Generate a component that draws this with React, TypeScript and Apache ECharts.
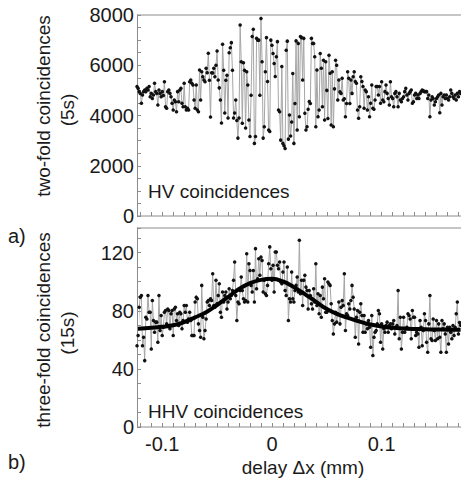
import React, { useEffect, useRef } from "react";
import * as echarts from "echarts";

// delay positions: first sample and step (mm)
const xStart = -0.123;
const xStep = 0.001;

// two-fold (HV) coincidences per 5 s
const twoFold = [
  5150, 5080, 4950, 4880, 4485, 4815, 4950, 5015, 4950, 5080,
  5015, 5150, 4750, 4880, 4680, 4815, 5280, 4950, 4880, 4420,
  5015, 4880, 4750, 4950, 4800, 5345, 4350, 4285, 4950, 5015,
  4880, 4750, 4485, 4220, 4620, 4550, 4150, 4950, 4550, 5015,
  5080, 4485, 4350, 5280, 4350, 4220, 4285, 4220, 5345, 5410,
  5280, 5215, 4620, 4285, 5215, 4220, 4150, 5810, 4620, 5740,
  5545, 5410, 5345, 5880, 5700, 6475, 5400, 3940, 5700, 5690,
  5880, 5540, 6000, 6570, 5410, 5100, 4620, 3700, 6840, 5800,
  4100, 5400, 5600, 3900, 6500, 6700, 6900, 5800, 3900, 4100,
  4620, 3800, 3100, 3900, 7600, 6140, 3690, 6100, 5800, 3500,
  5740, 5210, 3820, 3160, 4810, 7140, 7430, 2890, 3160, 7070,
  7000, 7000, 4810, 7865, 6140, 3100, 3550, 5740, 7100, 5350,
  3420, 3360, 7000, 6800, 6470, 6070, 5550, 6340, 6940, 4220,
  4150, 3020, 5950, 2890, 2800, 2690, 6600, 6960, 3060, 4020,
  3180, 3740, 5670, 2890, 4480, 6970, 3420, 6870, 3950, 7140,
  7100, 5410, 7070, 4090, 3420, 3550, 4250, 4560, 4480, 7070,
  6870, 6870, 6340, 3550, 5810, 3950, 4220, 6470, 5880, 4350,
  6200, 3820, 6140, 5000, 3880, 6400, 5680, 3620, 5740, 3550,
  5060, 6200, 6000, 4620, 5410, 4940, 4880, 5480, 4620, 4670,
  3950, 4480, 5740, 5480, 4480, 5410, 4880, 5540, 5740, 5350,
  5280, 4220, 3890, 4350, 5540, 5350, 5150, 4285, 5015, 4950,
  4220, 4750, 3950, 4485, 5215, 4285, 4250, 4620, 5150, 5150,
  4815, 5150, 4485, 5345, 4620, 4550, 4950, 5215, 4880, 4680,
  4420, 5345, 4750, 4680, 4350, 4880, 4950, 4750, 4350, 4880,
  4620, 4550, 4680, 4750, 4950, 5080, 4815, 4620, 4880, 4950,
  5015, 4485, 4550, 4815, 4880, 4680, 4815, 4680, 4880, 4950,
  5015, 4980, 4950, 4950, 4950, 4680, 4815, 3950, 4620, 4750,
  4680, 4420, 4550, 4680, 4750, 4815, 4110, 4880, 4420, 4750,
  4815, 4680, 4815, 4680, 4620, 4750, 5015, 4880, 4750, 4680,
  4815, 4620, 4880, 4750, 4950, 4880,
];

// three-fold (HHV) coincidences per 15 s
const threeFold = [
  56, 63, 82.5, 89.4, 90.6, 56, 61.8, 45.7, 75.6, 74.4,
  90.6, 79, 79, 53.7, 87.1, 73.3, 65.2, 72.2, 72.2, 58.4,
  90.6, 66.4, 76.7, 63, 68.7, 79, 80.2, 71, 81.3, 80.2,
  67.6, 77.9, 80.2, 63, 81.3, 82.5, 73.3, 77.9, 69.9, 79,
  77.9, 67.6, 73.3, 83.7, 79, 83.7, 72.2, 74.4, 79, 73.3,
  63, 63, 63, 86, 89.4, 88.3, 71, 66.4, 61.8, 97.5,
  75.6, 60.7, 66.4, 74.4, 86, 87.1, 83.7, 88.3, 87.1, 105.5,
  83.7, 82.5, 101, 84.8, 90.6, 98.6, 79, 75.6, 93, 86,
  90.6, 93, 81.3, 86, 95.2, 88.3, 90.6, 94, 101, 113.6,
  90.6, 73.3, 86, 84.8, 94, 103.2, 94, 88.3, 86, 87.1,
  119.3, 86, 112.4, 107.8, 97.5, 92.9, 107.8, 86, 122.8, 95.2,
  102.1, 115.9, 104.4, 117, 114.7, 92.9, 101, 91.7, 90.6, 97.5,
  112.4, 124, 108.9, 101, 111.3, 92.9, 120.5, 120.5, 111.3, 108.9,
  113.6, 99.8, 98.6, 106.7, 113.6, 94, 90.6, 110.1, 73.3, 88.3,
  86, 106.7, 88.3, 86, 94, 97.5, 103.2, 92.9, 128.5, 91.7,
  101, 83.7, 101, 104.4, 96.3, 94, 81.3, 94, 90.6, 84.8,
  81.3, 95.2, 86, 112.4, 83.7, 91.7, 77.9, 90.6, 75.6, 96.3,
  88.3, 102.1, 79, 79, 99.8, 98.6, 97.5, 84.8, 73.3, 64.1,
  71, 79, 72.2, 77.9, 86, 71, 82.5, 87.1, 83.7, 105.5,
  66.4, 77.9, 76.7, 84.8, 81.3, 87.1, 97.5, 89.4, 81.3, 61.8,
  75.6, 80.2, 57.2, 79, 84.8, 76.7, 65.2, 76.7, 65.2, 71,
  67.6, 73.3, 68.7, 54.9, 76.7, 49.2, 61.8, 65.2, 66.4, 71,
  80.2, 77.9, 58.4, 71, 53.7, 67.6, 65.2, 69.9, 72.2, 65.2,
  69.9, 71, 67.6, 71, 73.3, 64.1, 68.7, 69.9, 94, 60.7,
  75.6, 53.7, 65.2, 75.6, 65.2, 67.6, 68.7, 77.9, 76.7, 74.4,
  60.7, 80.2, 75.6, 75.6, 63, 65.2, 64.1, 54.9, 73.3, 68.7,
  56, 66.4, 77.9, 73.3, 58.4, 51.4, 71, 90.6, 60.7, 59.5,
  74.4, 66.4, 59.5, 73.3, 60.7, 71, 61.8, 51.4, 73.3, 67.6,
  71, 64.1, 51.4, 68.7, 57.2, 68.7, 65.2, 60.7, 69.9, 63,
  68.7, 77.9, 86, 64.1, 72, 70,
];

// fitted curve
const fitX = [-0.123, -0.11, -0.1, -0.09, -0.08, -0.07, -0.06, -0.05, -0.04, -0.03, -0.02, -0.01, 0, 0.01, 0.02, 0.03, 0.04, 0.05, 0.06, 0.07, 0.08, 0.09, 0.1, 0.11, 0.12, 0.13, 0.14, 0.15, 0.16, 0.172];
const fitY = [67.6, 68.3, 69, 70, 72.2, 75.5, 79, 84, 89.5, 95, 99, 101.3, 102, 100.2, 96.3, 91.5, 86.3, 81.2, 77.6, 75, 72.6, 70.6, 69.2, 68.3, 67.8, 67.5, 67.3, 67.1, 67, 66.9];

const topLabelValues = [0, 2000, 4000, 6000, 8000];
const bottomLabelValues = [0, 40, 80, 120];
const xLabelValues = [-0.1, 0, 0.1];

const FONT = '"Liberation Sans", Arial, Helvetica, sans-serif';
const TXT = "#1a1a1a";
const AX = "#8c8c8c";

const near = (v: number, list: number[], tol: number) => list.some((t) => Math.abs(t - v) < tol);

export default function App() {
  const ref = useRef<HTMLDivElement>(null);
  useEffect(() => {
    if (!ref.current) return;
    const chart = echarts.init(ref.current, null, { renderer: "svg" });
    const topData = twoFold.map((v, i) => [xStart + i * xStep, v]);
    const botData = threeFold.map((v, i) => [xStart + i * xStep, v]);
    const fitData = fitX.map((x, i) => [x, fitY[i]]);

    const tick = { show: true, inside: true, length: 4, lineStyle: { color: AX, width: 1 } };
    const xBase = {
      type: "value",
      min: -0.12,
      max: 0.18,
      interval: 0.01,
      axisLine: { show: false, onZero: false },
      axisTick: tick,
      splitLine: { show: false },
    };
    const label = { fontSize: 20, color: TXT, fontFamily: FONT };

    const option: any = {
      animation: false,
      backgroundColor: "#ffffff",
      grid: [
        { left: 140.3, top: 15, right: -8.4, height: 201, outerBoundsMode: "none", containLabel: false },
        { left: 140.3, top: 228, right: -8.4, height: 199, outerBoundsMode: "none", containLabel: false },
      ],
      xAxis: [
        { ...xBase, gridIndex: 0, axisLabel: { show: false } },
        {
          ...xBase,
          gridIndex: 1,
          axisLabel: {
            ...label,
            margin: 7,
            formatter: (v: number) => (near(v, xLabelValues, 1e-6) ? (Math.abs(v) < 1e-9 ? "0" : v.toFixed(1)) : ""),
          },
        },
      ],
      yAxis: [
        {
          type: "value",
          gridIndex: 0,
          min: 0,
          max: 8000,
          interval: 500,
          offset: 3.3,
          axisLine: { show: true, onZero: false, lineStyle: { color: AX, width: 1 } },
          axisTick: tick,
          splitLine: { show: false },
          axisLabel: { ...label, margin: 3, formatter: (v: number) => (near(v, topLabelValues, 1e-6) ? String(v) : "") },
        },
        {
          type: "value",
          gridIndex: 1,
          min: 0,
          max: 137,
          interval: 10,
          offset: 3.3,
          axisLine: { show: true, onZero: false, lineStyle: { color: AX, width: 1 } },
          axisTick: tick,
          splitLine: { show: false },
          axisLabel: { ...label, margin: 3, formatter: (v: number) => (near(v, bottomLabelValues, 1e-6) ? String(v) : "") },
        },
      ],
      series: [
        {
          type: "line",
          xAxisIndex: 0,
          yAxisIndex: 0,
          data: topData,
          clip: false,
          symbol: "circle",
          symbolSize: 3.5,
          itemStyle: { color: "#111" },
          lineStyle: { color: "#a6a6a6", width: 1 },
        },
        {
          type: "line",
          xAxisIndex: 1,
          yAxisIndex: 1,
          data: botData,
          clip: false,
          symbol: "circle",
          symbolSize: 3.5,
          itemStyle: { color: "#111" },
          lineStyle: { color: "#a6a6a6", width: 1 },
        },
        {
          type: "line",
          xAxisIndex: 1,
          yAxisIndex: 1,
          data: fitData,
          clip: false,
          smooth: 0.4,
          symbol: "none",
          z: 5,
          lineStyle: { color: "#000", width: 4 },
        },
      ],
      graphic: [
        { type: "line", shape: { x1: 137, y1: 15, x2: 461, y2: 15 }, style: { stroke: AX, lineWidth: 1 } },
        { type: "line", shape: { x1: 137, y1: 216, x2: 461, y2: 216 }, style: { stroke: AX, lineWidth: 1 } },
        { type: "line", shape: { x1: 137, y1: 228, x2: 461, y2: 228 }, style: { stroke: AX, lineWidth: 1 } },
        { type: "line", shape: { x1: 137, y1: 427, x2: 461, y2: 427 }, style: { stroke: AX, lineWidth: 1 } },
        { type: "text", x: 43, y: 106, rotation: Math.PI / 2, style: { text: "two-fold coincidences", fontSize: 19, fontFamily: FONT, fill: TXT, align: "center", verticalAlign: "middle" } },
        { type: "text", x: 67, y: 110, rotation: Math.PI / 2, style: { text: "(5s)", fontSize: 19, fontFamily: FONT, fill: TXT, align: "center", verticalAlign: "middle" } },
        { type: "text", x: 43, y: 330, rotation: Math.PI / 2, style: { text: "three-fold coincidences", fontSize: 19, fontFamily: FONT, fill: TXT, align: "center", verticalAlign: "middle" } },
        { type: "text", x: 67, y: 333, rotation: Math.PI / 2, style: { text: "(15s)", fontSize: 19, fontFamily: FONT, fill: TXT, align: "center", verticalAlign: "middle" } },
        { type: "text", x: 8, y: 236, style: { text: "a)", fontSize: 20, fontFamily: FONT, fill: TXT, align: "left", verticalAlign: "middle" } },
        { type: "text", x: 8, y: 462, style: { text: "b)", fontSize: 20, fontFamily: FONT, fill: TXT, align: "left", verticalAlign: "middle" } },
        { type: "text", x: 148, y: 191, style: { text: "HV coincidences", fontSize: 19, fontFamily: FONT, fill: TXT, align: "left", verticalAlign: "middle" } },
        { type: "text", x: 148, y: 411, style: { text: "HHV coincidences", fontSize: 19, fontFamily: FONT, fill: TXT, align: "left", verticalAlign: "middle" } },
        { type: "text", x: 303, y: 467, style: { text: "delay \u0394x (mm)", fontSize: 19, fontFamily: FONT, fill: TXT, align: "center", verticalAlign: "middle" } },
      ],
    };
    chart.setOption(option);
    return () => chart.dispose();
  }, []);
  return <div ref={ref} style={{ position: "absolute", left: 0, top: 0, width: 461, height: 485 }} />;
}
